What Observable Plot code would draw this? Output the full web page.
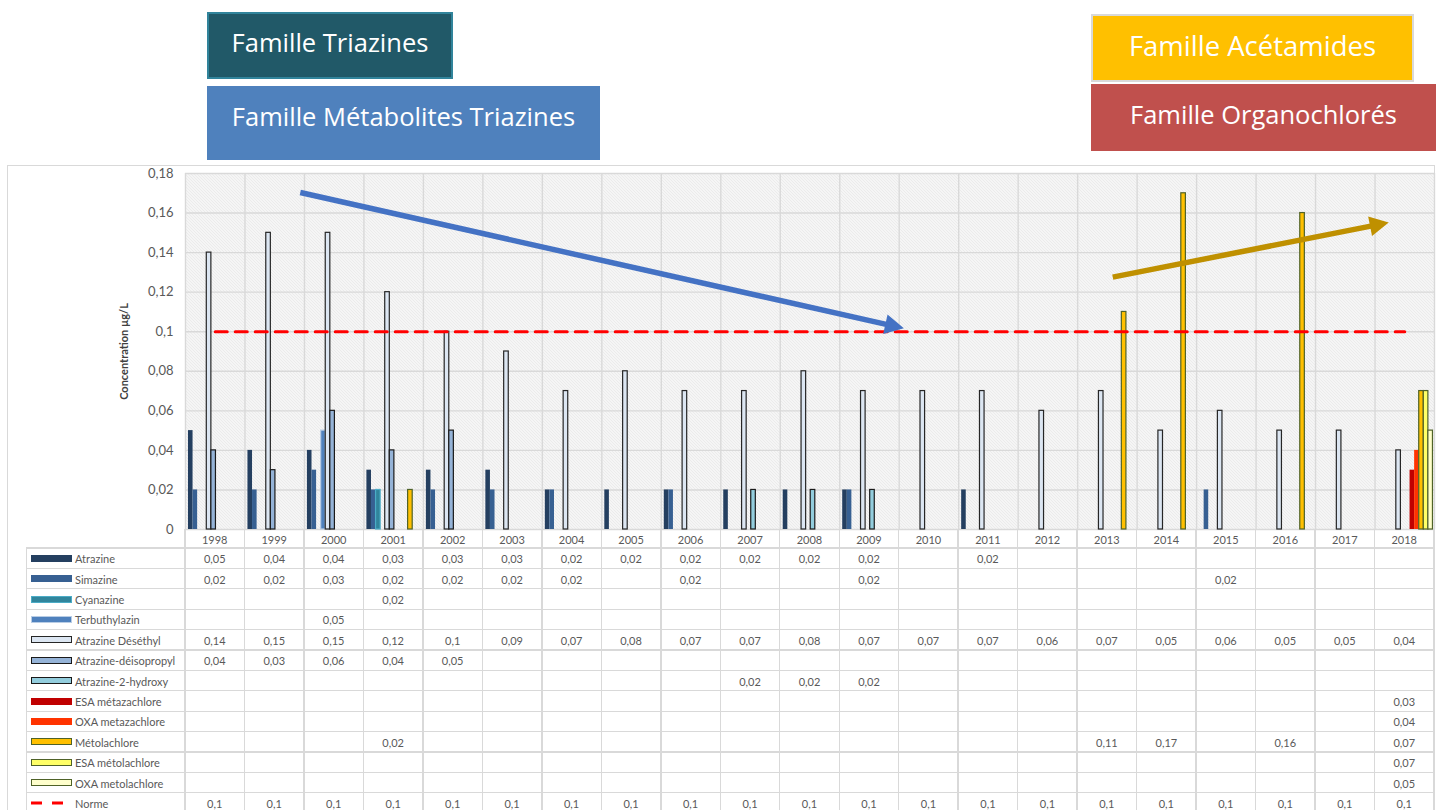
<!DOCTYPE html>
<html><head><meta charset="utf-8">
<script src="https://cdn.jsdelivr.net/npm/d3@7"></script>
<script src="https://cdn.jsdelivr.net/npm/@observablehq/plot@0.6"></script>
<style>
body{margin:0;width:1441px;height:810px;overflow:hidden;background:#fff;font-family:Lato,"Open Sans",sans-serif;position:relative}
.box{position:absolute;color:#fff;display:flex;align-items:center;justify-content:center;box-sizing:border-box;font-family:"Open Sans",Lato,sans-serif}
#frame{position:absolute;left:7px;top:165px;width:1428px;height:700px;border:1.5px solid #d9d9d9;box-sizing:border-box}
#chart{position:absolute;left:0;top:160px}
#chart [aria-label="y-axis label"] text{font-weight:700;font-size:11px;fill:#404040}
#chart [aria-label="y-axis tick label"] text{fill:#595959}
.hl,.vl{position:absolute;background:#d9d9d9}
.cell{position:absolute;font-size:11px;color:#595959;transform:translate(-50%,-50%);white-space:nowrap}
.name{position:absolute;font-size:11px;color:#595959;transform:translateY(-50%);white-space:nowrap}
.key{position:absolute;width:41px;height:7px;box-sizing:border-box}
</style></head>
<body>
<div class="box" style="left:207px;top:12px;width:246px;height:67px;background:#215968;border:2px solid #31849b;font-size:25.5px;padding-bottom:7px;">Famille Triazines</div>
<div class="box" style="left:207px;top:86px;width:393px;height:74px;background:#4f81bd;font-size:25.5px;padding-bottom:14px;">Famille Métabolites Triazines</div>
<div class="box" style="left:1091px;top:14px;width:323px;height:68px;background:#ffc000;border:2px solid #d9d9d9;font-size:27.5px;padding-bottom:5px;">Famille Acétamides</div>
<div class="box" style="left:1091px;top:84px;width:345px;height:67px;background:#c0504d;font-size:25.5px;padding-bottom:8px;">Famille Organochlorés</div>
<div id="frame"></div>
<div id="chart"></div>
<div id="table"></div>
<script>
// ---------- data ----------
const years = [1998,1999,2000,2001,2002,2003,2004,2005,2006,2007,2008,2009,2010,2011,2012,2013,2014,2015,2016,2017,2018];
const seriesNames = ["Atrazine","Simazine","Cyanazine","Terbuthylazin","Atrazine Déséthyl","Atrazine-déisopropyl","Atrazine-2-hydroxy","ESA métazachlore","OXA metazachlore","Métolachlore","ESA métolachlore","OXA metolachlore"];
const atrazine      = [0.05,0.04,0.04,0.03,0.03,0.03,0.02,0.02,0.02,0.02,0.02,0.02,null,0.02,null,null,null,null,null,null,null];
const simazine      = [0.02,0.02,0.03,0.02,0.02,0.02,0.02,null,0.02,null,null,0.02,null,null,null,null,null,0.02,null,null,null];
const cyanazine     = [null,null,null,0.02,null,null,null,null,null,null,null,null,null,null,null,null,null,null,null,null,null];
const terbuthylazin = [null,null,0.05,null,null,null,null,null,null,null,null,null,null,null,null,null,null,null,null,null,null];
const desethyl      = [0.14,0.15,0.15,0.12,0.1,0.09,0.07,0.08,0.07,0.07,0.08,0.07,0.07,0.07,0.06,0.07,0.05,0.06,0.05,0.05,0.04];
const deisopropyl   = [0.04,0.03,0.06,0.04,0.05,null,null,null,null,null,null,null,null,null,null,null,null,null,null,null,null];
const hydroxy       = [null,null,null,null,null,null,null,null,null,0.02,0.02,0.02,null,null,null,null,null,null,null,null,null];
const esaMetaz      = [null,null,null,null,null,null,null,null,null,null,null,null,null,null,null,null,null,null,null,null,0.03];
const oxaMetaz      = [null,null,null,null,null,null,null,null,null,null,null,null,null,null,null,null,null,null,null,null,0.04];
const metolachlore  = [null,null,null,0.02,null,null,null,null,null,null,null,null,null,null,null,0.11,0.17,null,0.16,null,0.07];
const esaMetol      = [null,null,null,null,null,null,null,null,null,null,null,null,null,null,null,null,null,null,null,null,0.07];
const oxaMetol      = [null,null,null,null,null,null,null,null,null,null,null,null,null,null,null,null,null,null,null,null,0.05];
const norme         = [0.1,0.1,0.1,0.1,0.1,0.1,0.1,0.1,0.1,0.1,0.1,0.1,0.1,0.1,0.1,0.1,0.1,0.1,0.1,0.1,0.1];
const normeName = "Norme";
const yTicks = [0,0.02,0.04,0.06,0.08,0.1,0.12,0.14,0.16,0.18];
const yLabel = "Concentration µg/L";
// trend arrows (data coordinates: year, concentration), end = base of the arrow head
const trendArrows = [
  {x1:1999.43, y1:0.1704, x2:2009.30, y2:0.1036},
  {x1:2013.09, y1:0.1276, x2:2017.45, y2:0.1535}
];
const seriesValues = [atrazine,simazine,cyanazine,terbuthylazin,desethyl,deisopropyl,hydroxy,esaMetaz,oxaMetaz,metolachlore,esaMetol,oxaMetol];

// ---------- styles ----------
const fills   = ["#243f60","#376092","#31859c","#4f81bd","#dce6f2","#95b3d7","#93cddd","#c00000","#ff3300","#ffc000","#ffff66","#ffffcc"];
const strokes = ["none","none","#4bacc6","#b9cde5","#262626","#1a1a1a","#1a1a1a","none","none","#4f6228","#4f6228","#4f6228"];
const arrowColors = ["#4472c4","#bf9000"];
const BW = 0.077, OFF = 0.45;

const fmt = v => v === 0 ? "0" : String(v).replace(".", ",");
const X0 = years[0] - 0.5, X1 = years[years.length-1] + 0.5;
const boundaries = years.map(y => y - 0.5).concat([X1]);

const barMarks = seriesValues.map((vals, i) => {
  const rows = vals.map((v, j) => ({year: years[j], v})).filter(d => d.v != null);
  return Plot.rect(rows, {
    x1: d => d.year - OFF + i * BW,
    x2: d => d.year - OFF + (i + 1) * BW,
    y1: 0, y2: "v",
    fill: fills[i],
    stroke: strokes[i],
    strokeWidth: 1.2
  });
});

// filled triangular arrow head marker (pixel units)
function triHead(color, context) {
  const doc = (context && context.document) || document;
  const m = doc.createElementNS("http://www.w3.org/2000/svg", "marker");
  m.setAttribute("viewBox", "-3 -11 22 22");
  m.setAttribute("markerUnits", "userSpaceOnUse");
  m.setAttribute("markerWidth", "22");
  m.setAttribute("markerHeight", "22");
  m.setAttribute("refX", "0");
  m.setAttribute("refY", "0");
  m.setAttribute("orient", "auto");
  m.setAttribute("overflow", "visible");
  const p = doc.createElementNS("http://www.w3.org/2000/svg", "path");
  p.setAttribute("d", "M-2,-10 L17,0 L-2,10 Z");
  p.setAttribute("fill", color);
  p.setAttribute("stroke", "none");
  m.appendChild(p);
  return m;
}
function fallbackArrows() {
  return trendArrows.map((a, k) => Plot.arrow([a], {x1: "x1", y1: "y1", x2: "x2", y2: "y2", stroke: arrowColors[k], strokeWidth: 5.5, headLength: 16}));
}
function arrowMarks() {
  try {
    return trendArrows.map((a, k) => Plot.link([a], {x1: "x1", y1: "y1", x2: "x2", y2: "y2", stroke: arrowColors[k], strokeWidth: 5.5, markerEnd: triHead}));
  } catch (e) { return fallbackArrows(); }
}

function build(arrows) {
  return Plot.plot({
    width: 1441, height: 372,
    marginLeft: 185, marginRight: 7, marginTop: 13, marginBottom: 3,
    style: {fontFamily: "Lato, 'Open Sans', sans-serif", fontSize: "13px", background: "transparent", overflow: "visible"},
    x: {domain: [X0, X1], axis: null},
    y: {domain: [0, 0.18]},
    marks: [
      Plot.frame({fill: "url(#hatch)", stroke: "none"}),
      Plot.gridY(yTicks, {stroke: "#d9d9d9", strokeOpacity: 1, strokeWidth: 1.4}),
      Plot.ruleX(boundaries, {stroke: "#d9d9d9", strokeWidth: 1.4}),
      Plot.axisY({ticks: yTicks, tickSize: 0, tickPadding: 12, tickFormat: fmt,
        label: yLabel, labelAnchor: "center", labelOffset: 65, labelArrow: "none"}),
      ...barMarks,
      Plot.lineY(years.map((y, j) => ({year: y, v: norme[j]})), {x: "year", y: "v", stroke: "#ff0000", strokeWidth: 3, strokeDasharray: "12 8"}),
      ...arrows
    ]
  });
}
let chart;
try { chart = build(arrowMarks()); }
catch (e) { chart = build(fallbackArrows()); }

d3.select(chart).insert("defs", ":first-child").html(
  `<pattern id="hatch" patternUnits="userSpaceOnUse" width="3" height="3">
     <rect width="3" height="3" fill="#ffffff"/>
     <path d="M-1,-1 L4,4 M-1,2 L1,4 M2,-1 L4,1" stroke="#cdcdcd" stroke-width="0.8"/>
   </pattern>`);
document.getElementById("chart").appendChild(chart);

// ---------- data table ----------
const xs = chart.scale("x");
const px = v => xs.apply(v);
const T = document.getElementById("table");
const add = (cls, css, html) => { const d = document.createElement("div"); d.className = cls; d.style.cssText = css; if (html != null) d.innerHTML = html; T.appendChild(d); return d; };
const top0 = 529, head = 19, rowH = 20.4, left0 = 26, right0 = px(X1);
const allRows = seriesNames.map((n, i) => ({name: n, vals: seriesValues[i], i})).concat([{name: normeName, vals: norme, i: -1}]);
// year header
years.forEach(y => add("cell", `left:${px(y)}px;top:${top0 + head/2}px`, String(y)));
// grid lines
boundaries.forEach(b => add("vl", `left:${px(b) - 0.7}px;top:${top0}px;width:1.4px;height:${810 - top0}px`));
add("vl", `left:${left0}px;top:${top0 + head}px;width:1.4px;height:${810 - top0 - head}px`);
for (let k = 0; k <= allRows.length; k++) {
  add("hl", `left:${left0}px;top:${top0 + head + k * rowH - 0.7}px;width:${right0 - left0}px;height:1.4px`);
}
allRows.forEach((r, k) => {
  const cy = top0 + head + k * rowH + rowH / 2;
  if (r.i >= 0) {
    const st = strokes[r.i] === "none" ? "" : `border:1.5px solid ${strokes[r.i]};`;
    add("key", `left:31px;top:${cy - 3.5}px;background:${fills[r.i]};${st}`);
  } else {
    add("key", `left:31px;top:${cy - 3}px;height:6px;`, `<svg width="41" height="6" style="display:block"><line x1="0" y1="3" x2="32" y2="3" stroke="#ff0000" stroke-width="3" stroke-dasharray="11 10"/></svg>`);
  }
  add("name", `left:75px;top:${cy}px`, r.name);
  r.vals.forEach((v, j) => { if (v != null) add("cell", `left:${px(years[j])}px;top:${cy}px`, fmt(v)); });
});
</script>
</body></html>
